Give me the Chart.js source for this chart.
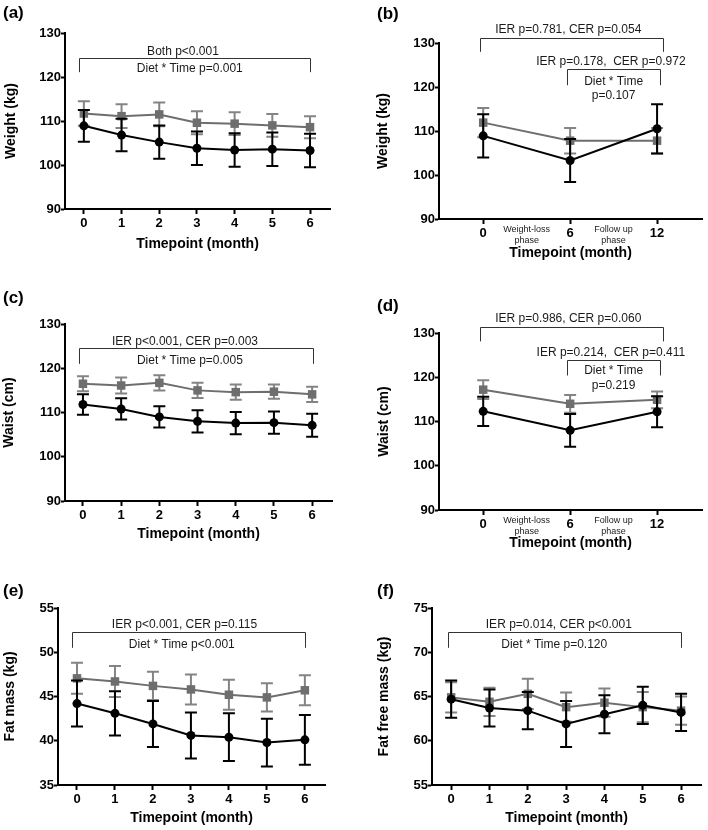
<!DOCTYPE html>
<html>
<head>
<meta charset="utf-8">
<script src="https://cdn.jsdelivr.net/npm/chart.js@4.4.1/dist/chart.umd.min.js"></script>
<style>
  body { margin: 0; background: #fff; }
  #wrap { position: relative; width: 708px; height: 830px; overflow: hidden; font-family: "Liberation Sans", Arial, sans-serif; }
  canvas { position: absolute; }
  .tag { position: absolute; font-weight: bold; font-size: 17px; line-height: 1; color: #000; }
</style>
</head>
<body>
<div id="wrap">
  <canvas id="chartA" width="354" height="277" style="left:0;top:0"></canvas>
  <canvas id="chartB" width="354" height="277" style="left:354px;top:0"></canvas>
  <canvas id="chartC" width="354" height="277" style="left:0;top:277px"></canvas>
  <canvas id="chartD" width="354" height="277" style="left:354px;top:277px"></canvas>
  <canvas id="chartE" width="354" height="276" style="left:0;top:554px"></canvas>
  <canvas id="chartF" width="354" height="276" style="left:354px;top:554px"></canvas>
  <div class="tag" style="left:3px;top:4px">(a)</div>
  <div class="tag" style="left:377px;top:5px">(b)</div>
  <div class="tag" style="left:3px;top:289px">(c)</div>
  <div class="tag" style="left:377px;top:297px">(d)</div>
  <div class="tag" style="left:3px;top:582px">(e)</div>
  <div class="tag" style="left:377px;top:582px">(f)</div>
</div>
<script>
// x categories
const monthsDiet = [0, 1, 2, 3, 4, 5, 6];
const monthsFollowUp = [0, 6, 12];

// y tick labels
const kgTicks = [90, 100, 110, 120, 130];
const cmTicks = [90, 100, 110, 120, 130];
const fatTicks = [35, 40, 45, 50, 55];
const ffmTicks = [55, 60, 65, 70, 75];

// (a) weight, 0-6 months
const weightGrey = [111.7, 111.1, 111.5, 109.6, 109.4, 109.0, 108.6];
const weightGreySd = [2.8, 2.7, 2.7, 2.6, 2.6, 2.6, 2.5];
const weightBlack = [108.9, 106.8, 105.2, 103.8, 103.4, 103.6, 103.3];
const weightBlackSd = [3.6, 3.7, 3.8, 3.8, 3.8, 3.8, 3.8];

// (b) weight, follow up
const weightFuGrey = [111.9, 107.8, 107.8];
const weightFuGreySd = [3.3, 2.9, 2.9];
const weightFuBlack = [108.9, 103.3, 110.5];
const weightFuBlackSd = [4.9, 4.9, 5.6];

// (c) waist, 0-6 months
const waistGrey = [116.5, 116.1, 116.7, 115.0, 114.6, 114.7, 114.1];
const waistGreySd = [1.7, 1.8, 1.7, 1.7, 1.7, 1.6, 1.7];
const waistBlack = [111.8, 110.8, 109.0, 108.0, 107.6, 107.7, 107.1];
const waistBlackSd = [2.3, 2.4, 2.4, 2.5, 2.5, 2.5, 2.6];

// (d) waist, follow up
const waistFuGrey = [117.2, 114.0, 114.9];
const waistFuGreySd = [2.1, 2.0, 1.9];
const waistFuBlack = [112.3, 108.0, 112.2];
const waistFuBlackSd = [3.3, 3.7, 3.5];

// (e) fat mass
const fatGrey = [47.05, 46.7, 46.2, 45.8, 45.2, 44.9, 45.7];
const fatGreySd = [1.75, 1.75, 1.6, 1.7, 1.7, 1.6, 1.7];
const fatBlack = [44.2, 43.1, 41.9, 40.6, 40.4, 39.8, 40.1];
const fatBlackSd = [2.6, 2.5, 2.6, 2.6, 2.7, 2.7, 2.8];

// (f) fat free mass
const ffmGrey = [64.9, 64.4, 65.3, 63.8, 64.3, 63.8, 63.4];
const ffmGreySd = [1.7, 1.6, 1.7, 1.65, 1.6, 1.7, 1.6];
const ffmBlack = [64.7, 63.7, 63.4, 61.9, 63.0, 64.0, 63.2];
const ffmBlackSd = [2.1, 2.1, 2.1, 2.6, 2.15, 2.1, 2.1];

// p-value brackets: [x from, x to, line y, tick end y]  and texts: [x, y, text]
const notesA = {
  brackets: [[-0.13, 6, 124.3, 121.1]],
  texts: [[2.63, 125.8, 'Both p<0.001'], [2.81, 121.8, 'Diet * Time p=0.001']]
};
const notesB = {
  brackets: [[-0.22, 12.43, 131.2, 128.0], [5.76, 12.2, 124.0, 120.4]],
  texts: [[5.87, 133.0, 'IER p=0.781, CER p=0.054'], [8.81, 125.7, 'IER p=0.178,  CER p=0.972'],
          [9.0, 121.3, 'Diet * Time'], [9.0, 118.0, 'p=0.107']],
  phases: true
};
const notesC = {
  brackets: [[-0.1, 6.02, 124.5, 121.0]],
  texts: [[2.67, 126.0, 'IER p<0.001, CER p=0.003'], [2.8, 121.8, 'Diet * Time p=0.005']]
};
const notesD = {
  brackets: [[-0.22, 12.43, 131.36, 128.1], [5.76, 12.2, 123.96, 120.4]],
  texts: [[5.87, 133.2, 'IER p=0.986, CER p=0.060'], [8.81, 125.5, 'IER p=0.214,  CER p=0.411'],
          [9.0, 121.4, 'Diet * Time'], [9.0, 118.1, 'p=0.219']],
  phases: true
};
const notesE = {
  brackets: [[-0.12, 6, 52.3, 50.5]],
  texts: [[2.83, 53.1, 'IER p<0.001, CER p=0.115'], [2.76, 50.9, 'Diet * Time p<0.001']]
};
const notesF = {
  brackets: [[-0.08, 6, 72.25, 70.5]],
  texts: [[2.81, 73.1, 'IER p=0.014, CER p<0.001'], [2.69, 70.9, 'Diet * Time p=0.120']]
};

Chart.defaults.font.family = '"Liberation Sans", Arial, sans-serif';
Chart.defaults.color = '#000';

const GREY = '#6e6e6e';

// error bars, drawn just before each dataset so the stacking follows the lines
const errorBars = {
  id: 'errorBars',
  beforeDatasetDraw(chart, args) {
    const ds = chart.data.datasets[args.index];
    if (!ds.sd) return;
    const ctx = chart.ctx;
    const x = chart.scales.x, y = chart.scales.y;
    ctx.save();
    ctx.strokeStyle = ds.whiskerColor || ds.borderColor;
    ctx.lineWidth = 2;
    ds.data.forEach((p, i) => {
      const px = x.getPixelForValue(p.x);
      const top = y.getPixelForValue(p.y + ds.sd[i]);
      const bot = y.getPixelForValue(p.y - ds.sd[i]);
      ctx.beginPath();
      ctx.moveTo(px, top); ctx.lineTo(px, bot);
      ctx.moveTo(px - 6, top); ctx.lineTo(px + 6, top);
      ctx.moveTo(px - 6, bot); ctx.lineTo(px + 6, bot);
      ctx.stroke();
    });
    ctx.restore();
  }
};

function makeNotes(notes, phaseOffsets) {
  return {
    id: 'notes',
    afterDraw(chart) {
      const ctx = chart.ctx;
      const x = chart.scales.x, y = chart.scales.y;
      ctx.save();
      ctx.strokeStyle = '#333';
      ctx.lineWidth = 1;
      notes.brackets.forEach(b => {
        const x1 = Math.round(x.getPixelForValue(b[0])) + 0.5;
        const x2 = Math.round(x.getPixelForValue(b[1])) + 0.5;
        const yl = Math.round(y.getPixelForValue(b[2])) + 0.5;
        const yt = y.getPixelForValue(b[3]);
        ctx.beginPath();
        ctx.moveTo(x1, yt); ctx.lineTo(x1, yl); ctx.lineTo(x2, yl); ctx.lineTo(x2, yt);
        ctx.stroke();
      });
      ctx.fillStyle = '#1a1a1a';
      ctx.textAlign = 'center';
      ctx.textBaseline = 'middle';
      ctx.font = '12px "Liberation Sans", Arial, sans-serif';
      notes.texts.forEach(t => ctx.fillText(t[2], x.getPixelForValue(t[0]), y.getPixelForValue(t[1])));
      if (notes.phases) {
        ctx.font = '9px "Liberation Sans", Arial, sans-serif';
        const base = chart.chartArea.bottom;
        ctx.fillText('Weight-loss', x.getPixelForValue(3), base + phaseOffsets[0]);
        ctx.fillText('phase', x.getPixelForValue(3), base + phaseOffsets[1]);
        ctx.fillText('Follow up', x.getPixelForValue(9), base + phaseOffsets[0]);
        ctx.fillText('phase', x.getPixelForValue(9), base + phaseOffsets[1]);
      }
      ctx.restore();
    }
  };
}

function makeChart(id, p) {
  const canvas = document.getElementById(id);
  const W = canvas.width, H = canvas.height;
  const half = 14 * 1.2 / 2;
  // layout: area = [left, top, right, bottom] inside the canvas
  const [aL, aT, aR, aB] = p.area;
  let padL = p.yTitleX - half - 1, yPad = 1;
  if (padL < 0) { yPad = Math.max(0, p.yTitleX - half); padL = 0; }
  let padB = H - p.xTitleY - half - 1, xPad = 1;
  if (padB < 0) { xPad = Math.max(0, H - p.xTitleY - half); padB = 0; }
  const yW = aL - padL;
  const xH = H - padB - aB;

  const points = (xs, ys) => xs.map((v, i) => ({ x: v, y: ys[i] }));

  new Chart(canvas, {
    type: 'line',
    data: {
      datasets: [
        { data: points(p.months, p.black), sd: p.blackSd, borderColor: '#000', backgroundColor: '#000',
          borderWidth: 2, pointStyle: 'circle', pointRadius: 4.5, pointBorderWidth: 0, tension: 0, order: 0 },
        { data: points(p.months, p.grey), sd: p.greySd, borderColor: GREY, backgroundColor: GREY,
          whiskerColor: '#848484',
          borderWidth: 2, pointStyle: 'rect', pointRadius: 6, pointBorderWidth: 0, tension: 0, order: 1 }
      ]
    },
    options: {
      responsive: false,
      animation: false,
      devicePixelRatio: 1,
      layout: { padding: { left: padL, top: aT, right: W - aR, bottom: padB } },
      plugins: { legend: { display: false }, tooltip: { enabled: false } },
      scales: {
        x: {
          type: 'linear',
          min: p.xMin,
          max: p.xMax,
          afterBuildTicks: s => { s.ticks = p.months.map(v => ({ value: v })); },
          afterFit: s => { s.height = xH; },
          grid: { drawOnChartArea: false, drawTicks: true, tickLength: 5, tickWidth: 2, tickColor: '#000' },
          border: { color: '#000', width: 2 },
          ticks: { color: '#000', font: { size: 13, weight: 'bold' }, padding: 2, maxRotation: 0, autoSkip: false },
          title: { display: true, text: 'Timepoint (month)', color: '#000',
                   font: { size: 14, weight: 'bold' }, padding: { top: 0, bottom: xPad } }
        },
        y: {
          min: p.yTicks[0],
          max: p.yTicks[p.yTicks.length - 1],
          afterBuildTicks: s => { s.ticks = p.yTicks.map(v => ({ value: v })); },
          afterFit: s => { s.width = yW; },
          grid: { drawOnChartArea: false, drawTicks: true, tickLength: 4, tickWidth: 2, tickColor: '#000' },
          border: { color: '#000', width: 2 },
          ticks: { color: '#000', font: { size: 13, weight: 'bold' }, padding: 0 },
          title: { display: true, text: p.yTitle, color: '#000',
                   font: { size: 14, weight: 'bold' }, padding: { top: yPad, bottom: 0 } }
        }
      }
    },
    plugins: [errorBars, makeNotes(p.notes, p.phaseOffsets || [11, 21.5])]
  });
}

makeChart('chartA', {
  months: monthsDiet, grey: weightGrey, greySd: weightGreySd, black: weightBlack, blackSd: weightBlackSd,
  yTicks: kgTicks, yTitle: 'Weight (kg)', notes: notesA,
  xMin: -0.5, xMax: 6.53, area: [65, 33, 330, 209], yTitleX: 11, xTitleY: 244
});
makeChart('chartB', {
  months: monthsFollowUp, grey: weightFuGrey, greySd: weightFuGreySd, black: weightFuBlack, blackSd: weightFuBlackSd,
  yTicks: kgTicks, yTitle: 'Weight (kg)', notes: notesB, phaseOffsets: [11, 21.5],
  xMin: -3.05, xMax: 15.1, area: [85, 43, 353, 219], yTitleX: 29, xTitleY: 253
});
makeChart('chartC', {
  months: monthsDiet, grey: waistGrey, greySd: waistGreySd, black: waistBlack, blackSd: waistBlackSd,
  yTicks: cmTicks, yTitle: 'Waist (cm)', notes: notesC,
  xMin: -0.47, xMax: 6.52, area: [65, 47, 332, 224], yTitleX: 9, xTitleY: 257
});
makeChart('chartD', {
  months: monthsFollowUp, grey: waistFuGrey, greySd: waistFuGreySd, black: waistFuBlack, blackSd: waistFuBlackSd,
  yTicks: cmTicks, yTitle: 'Waist (cm)', notes: notesD, phaseOffsets: [11, 21.5],
  xMin: -3.05, xMax: 15.1, area: [85, 56, 353, 233], yTitleX: 30, xTitleY: 266
});
makeChart('chartE', {
  months: monthsDiet, grey: fatGrey, greySd: fatGreySd, black: fatBlack, blackSd: fatBlackSd,
  yTicks: fatTicks, yTitle: 'Fat mass (kg)', notes: notesE,
  xMin: -0.5, xMax: 6.53, area: [58, 54, 325, 231], yTitleX: 10, xTitleY: 264
});
makeChart('chartF', {
  months: monthsDiet, grey: ffmGrey, greySd: ffmGreySd, black: ffmBlack, blackSd: ffmBlackSd,
  yTicks: ffmTicks, yTitle: 'Fat free mass (kg)', notes: notesF,
  xMin: -0.5, xMax: 6.52, area: [78, 54, 347, 231], yTitleX: 30, xTitleY: 264
});
</script>
</body>
</html>
